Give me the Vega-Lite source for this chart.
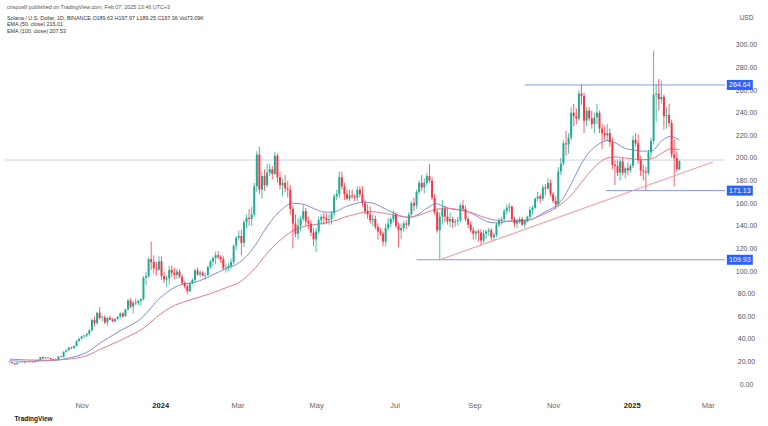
{
"$schema":"https://vega.github.io/schema/vega-lite/v6.json",
"width":730,"height":355,
"autosize":{"type":"none"},
"padding":{"left":0,"top":40,"right":38,"bottom":31},
"background":"#ffffff",
"config":{"view":{"stroke":null},"font":"Liberation Sans"},
"title":{"text":"crispus9 published on TradingView.com, Feb 07, 2025 13:46 UTC+3","subtitle":["Solana / U.S. Dollar, 1D, BINANCE  O189.63 H197.97 L189.25 C197.36 Vol73.09K","EMA (50, close) 216.01","EMA (100, close) 207.53"],"anchor":"start","frame":"group","orient":"top","offset":-20,"dx":7,"fontSize":5.4,"fontWeight":"normal","color":"#555555","font":"Liberation Sans","subtitleFont":"Liberation Sans","subtitleFontSize":5.4,"subtitleColor":"#333333","subtitlePadding":6,"subtitleLineHeight":6.1},
"datasets":{
"candles":[
{"d":"2023-09-06","o":19.6,"h":20.0,"l":19.0,"c":19.3},
{"d":"2023-09-08","o":19.3,"h":19.5,"l":18.3,"c":18.4},
{"d":"2023-09-10","o":18.4,"h":18.6,"l":17.3,"c":17.5},
{"d":"2023-09-12","o":17.5,"h":19.0,"l":17.4,"c":18.8},
{"d":"2023-09-14","o":18.8,"h":19.4,"l":18.6,"c":19.0},
{"d":"2023-09-16","o":19.0,"h":19.2,"l":18.7,"c":18.9},
{"d":"2023-09-18","o":18.9,"h":19.8,"l":18.8,"c":19.5},
{"d":"2023-09-20","o":19.5,"h":20.0,"l":19.3,"c":19.6},
{"d":"2023-09-22","o":19.6,"h":19.8,"l":19.2,"c":19.4},
{"d":"2023-09-24","o":19.4,"h":19.6,"l":19.0,"c":19.3},
{"d":"2023-09-26","o":19.3,"h":20.6,"l":19.2,"c":20.4},
{"d":"2023-09-28","o":20.4,"h":21.6,"l":20.2,"c":21.4},
{"d":"2023-09-30","o":21.4,"h":24.0,"l":21.3,"c":23.8},
{"d":"2023-10-02","o":23.8,"h":24.2,"l":22.4,"c":22.6},
{"d":"2023-10-04","o":22.6,"h":23.8,"l":22.3,"c":23.4},
{"d":"2023-10-06","o":23.4,"h":23.6,"l":22.7,"c":22.9},
{"d":"2023-10-08","o":22.9,"h":23.0,"l":21.8,"c":21.9},
{"d":"2023-10-10","o":21.9,"h":22.1,"l":21.0,"c":21.3},
{"d":"2023-10-12","o":21.3,"h":21.7,"l":20.9,"c":21.5},
{"d":"2023-10-14","o":21.5,"h":24.6,"l":21.4,"c":24.3},
{"d":"2023-10-16","o":24.3,"h":25.0,"l":23.4,"c":23.8},
{"d":"2023-10-18","o":23.8,"h":29.0,"l":23.5,"c":28.6},
{"d":"2023-10-20","o":28.6,"h":30.5,"l":27.8,"c":29.9},
{"d":"2023-10-22","o":29.9,"h":32.8,"l":29.5,"c":32.2},
{"d":"2023-10-24","o":32.2,"h":33.0,"l":30.5,"c":31.7},
{"d":"2023-10-26","o":31.7,"h":34.0,"l":31.2,"c":33.6},
{"d":"2023-10-28","o":33.6,"h":38.5,"l":33.3,"c":38.0},
{"d":"2023-10-30","o":38.0,"h":40.5,"l":37.5,"c":40.1},
{"d":"2023-11-01","o":40.1,"h":42.5,"l":39.8,"c":42.2},
{"d":"2023-11-03","o":42.2,"h":43.4,"l":41.0,"c":43.0},
{"d":"2023-11-05","o":43.0,"h":45.0,"l":41.5,"c":44.5},
{"d":"2023-11-07","o":44.5,"h":48.5,"l":43.0,"c":47.6},
{"d":"2023-11-09","o":47.6,"h":58.0,"l":46.5,"c":56.6},
{"d":"2023-11-11","o":56.6,"h":59.9,"l":51.0,"c":54.0},
{"d":"2023-11-13","o":54.0,"h":64.0,"l":52.5,"c":63.0},
{"d":"2023-11-15","o":63.0,"h":68.0,"l":57.0,"c":58.5},
{"d":"2023-11-17","o":58.5,"h":60.5,"l":55.5,"c":59.0},
{"d":"2023-11-19","o":59.0,"h":61.0,"l":53.0,"c":54.5},
{"d":"2023-11-21","o":54.5,"h":59.5,"l":51.5,"c":58.5},
{"d":"2023-11-23","o":58.5,"h":60.5,"l":56.5,"c":57.0},
{"d":"2023-11-25","o":57.0,"h":58.5,"l":54.5,"c":55.5},
{"d":"2023-11-27","o":55.5,"h":58.5,"l":54.5,"c":57.5},
{"d":"2023-11-29","o":57.5,"h":60.0,"l":56.5,"c":59.5},
{"d":"2023-12-01","o":59.5,"h":63.5,"l":58.5,"c":62.5},
{"d":"2023-12-03","o":62.5,"h":63.5,"l":58.5,"c":60.0},
{"d":"2023-12-05","o":60.0,"h":66.5,"l":59.5,"c":66.0},
{"d":"2023-12-07","o":66.0,"h":75.5,"l":65.5,"c":74.0},
{"d":"2023-12-09","o":74.0,"h":76.0,"l":67.0,"c":68.5},
{"d":"2023-12-11","o":68.5,"h":73.5,"l":62.5,"c":72.0},
{"d":"2023-12-13","o":72.0,"h":75.5,"l":70.0,"c":71.5},
{"d":"2023-12-15","o":71.5,"h":74.5,"l":69.5,"c":73.5},
{"d":"2023-12-17","o":73.5,"h":76.0,"l":69.5,"c":75.0},
{"d":"2023-12-19","o":75.0,"h":95.5,"l":74.0,"c":94.0},
{"d":"2023-12-21","o":94.0,"h":99.0,"l":87.5,"c":95.5},
{"d":"2023-12-23","o":95.5,"h":112.0,"l":94.0,"c":110.5},
{"d":"2023-12-25","o":110.5,"h":126.0,"l":101.0,"c":108.0},
{"d":"2023-12-27","o":108.0,"h":114.0,"l":98.0,"c":102.5},
{"d":"2023-12-29","o":102.5,"h":108.0,"l":96.0,"c":101.5},
{"d":"2023-12-31","o":101.5,"h":113.0,"l":100.0,"c":108.5},
{"d":"2024-01-02","o":108.5,"h":113.0,"l":92.0,"c":95.5},
{"d":"2024-01-04","o":95.5,"h":99.5,"l":89.5,"c":92.5},
{"d":"2024-01-06","o":92.5,"h":96.0,"l":85.5,"c":93.5},
{"d":"2024-01-08","o":93.5,"h":104.5,"l":88.0,"c":101.0},
{"d":"2024-01-10","o":101.0,"h":105.0,"l":95.0,"c":98.5},
{"d":"2024-01-12","o":98.5,"h":103.0,"l":93.0,"c":96.5},
{"d":"2024-01-14","o":96.5,"h":102.0,"l":93.0,"c":99.5},
{"d":"2024-01-16","o":99.5,"h":101.5,"l":93.5,"c":95.0},
{"d":"2024-01-18","o":95.0,"h":97.0,"l":87.5,"c":89.5},
{"d":"2024-01-20","o":89.5,"h":91.0,"l":84.5,"c":86.5},
{"d":"2024-01-22","o":86.5,"h":88.0,"l":79.5,"c":82.0},
{"d":"2024-01-24","o":82.0,"h":90.0,"l":81.5,"c":89.0},
{"d":"2024-01-26","o":89.0,"h":93.5,"l":88.0,"c":92.0},
{"d":"2024-01-28","o":92.0,"h":102.0,"l":90.0,"c":100.5},
{"d":"2024-01-30","o":100.5,"h":103.0,"l":95.5,"c":97.0},
{"d":"2024-02-01","o":97.0,"h":100.5,"l":94.5,"c":98.5},
{"d":"2024-02-03","o":98.5,"h":100.0,"l":95.0,"c":96.0},
{"d":"2024-02-05","o":96.0,"h":98.5,"l":92.5,"c":96.5},
{"d":"2024-02-07","o":96.5,"h":104.5,"l":95.5,"c":103.5},
{"d":"2024-02-09","o":103.5,"h":110.0,"l":102.0,"c":108.5},
{"d":"2024-02-11","o":108.5,"h":113.0,"l":104.5,"c":111.5},
{"d":"2024-02-13","o":111.5,"h":117.0,"l":106.0,"c":114.0},
{"d":"2024-02-15","o":114.0,"h":117.5,"l":110.5,"c":112.5},
{"d":"2024-02-17","o":112.5,"h":114.0,"l":107.0,"c":110.5},
{"d":"2024-02-19","o":110.5,"h":113.0,"l":101.0,"c":102.5},
{"d":"2024-02-21","o":102.5,"h":106.0,"l":98.5,"c":103.0},
{"d":"2024-02-23","o":103.0,"h":107.0,"l":100.0,"c":104.5},
{"d":"2024-02-25","o":104.5,"h":111.0,"l":102.0,"c":108.0},
{"d":"2024-02-27","o":108.0,"h":123.0,"l":106.0,"c":122.5},
{"d":"2024-02-29","o":122.5,"h":131.0,"l":118.5,"c":129.5},
{"d":"2024-03-02","o":129.5,"h":136.0,"l":127.0,"c":131.0},
{"d":"2024-03-04","o":131.0,"h":136.5,"l":114.0,"c":125.0},
{"d":"2024-03-06","o":125.0,"h":145.0,"l":121.0,"c":143.0},
{"d":"2024-03-08","o":143.0,"h":150.0,"l":138.0,"c":147.0},
{"d":"2024-03-10","o":147.0,"h":155.0,"l":140.0,"c":146.0},
{"d":"2024-03-12","o":146.0,"h":157.0,"l":140.0,"c":150.0},
{"d":"2024-03-14","o":150.0,"h":178.0,"l":148.0,"c":175.0},
{"d":"2024-03-16","o":175.0,"h":206.0,"l":170.0,"c":203.0},
{"d":"2024-03-18","o":203.0,"h":210.0,"l":168.0,"c":172.0},
{"d":"2024-03-20","o":172.0,"h":188.0,"l":164.0,"c":184.0},
{"d":"2024-03-22","o":184.0,"h":190.0,"l":171.0,"c":176.0},
{"d":"2024-03-24","o":176.0,"h":195.0,"l":174.0,"c":187.0},
{"d":"2024-03-26","o":187.0,"h":195.0,"l":184.0,"c":190.0},
{"d":"2024-03-28","o":190.0,"h":193.0,"l":181.0,"c":186.0},
{"d":"2024-03-30","o":186.0,"h":205.0,"l":185.0,"c":202.0},
{"d":"2024-04-01","o":202.0,"h":204.0,"l":178.0,"c":183.0},
{"d":"2024-04-03","o":183.0,"h":188.0,"l":172.0,"c":176.0},
{"d":"2024-04-05","o":176.0,"h":182.0,"l":166.0,"c":178.0},
{"d":"2024-04-07","o":178.0,"h":185.0,"l":170.0,"c":173.0},
{"d":"2024-04-09","o":173.0,"h":180.0,"l":165.0,"c":172.0},
{"d":"2024-04-11","o":172.0,"h":176.0,"l":150.0,"c":155.0},
{"d":"2024-04-13","o":155.0,"h":158.0,"l":120.0,"c":142.0},
{"d":"2024-04-15","o":142.0,"h":150.0,"l":130.0,"c":133.0},
{"d":"2024-04-17","o":133.0,"h":147.0,"l":128.0,"c":140.0},
{"d":"2024-04-19","o":140.0,"h":149.0,"l":135.0,"c":146.0},
{"d":"2024-04-21","o":146.0,"h":158.0,"l":144.0,"c":153.0},
{"d":"2024-04-23","o":153.0,"h":156.0,"l":140.0,"c":144.0},
{"d":"2024-04-25","o":144.0,"h":148.0,"l":137.0,"c":142.0},
{"d":"2024-04-27","o":142.0,"h":145.0,"l":131.0,"c":134.0},
{"d":"2024-04-29","o":134.0,"h":138.0,"l":122.0,"c":128.0},
{"d":"2024-05-01","o":128.0,"h":138.0,"l":117.0,"c":135.0},
{"d":"2024-05-03","o":135.0,"h":148.0,"l":133.0,"c":145.0},
{"d":"2024-05-05","o":145.0,"h":150.0,"l":141.0,"c":148.0},
{"d":"2024-05-07","o":148.0,"h":152.0,"l":141.0,"c":147.0},
{"d":"2024-05-09","o":147.0,"h":151.0,"l":142.0,"c":145.0},
{"d":"2024-05-11","o":145.0,"h":150.0,"l":141.0,"c":146.0},
{"d":"2024-05-13","o":146.0,"h":153.0,"l":141.0,"c":151.0},
{"d":"2024-05-15","o":151.0,"h":168.0,"l":148.0,"c":166.0},
{"d":"2024-05-17","o":166.0,"h":172.0,"l":163.0,"c":168.0},
{"d":"2024-05-19","o":168.0,"h":188.0,"l":165.0,"c":183.0},
{"d":"2024-05-21","o":183.0,"h":188.0,"l":172.0,"c":175.0},
{"d":"2024-05-23","o":175.0,"h":178.0,"l":163.0,"c":168.0},
{"d":"2024-05-25","o":168.0,"h":172.0,"l":163.0,"c":164.0},
{"d":"2024-05-27","o":164.0,"h":172.0,"l":162.0,"c":167.0},
{"d":"2024-05-29","o":167.0,"h":172.0,"l":164.0,"c":166.0},
{"d":"2024-05-31","o":166.0,"h":168.0,"l":162.0,"c":165.0},
{"d":"2024-06-02","o":165.0,"h":175.0,"l":162.0,"c":172.0},
{"d":"2024-06-04","o":172.0,"h":175.0,"l":165.0,"c":168.0},
{"d":"2024-06-06","o":168.0,"h":175.0,"l":157.0,"c":160.0},
{"d":"2024-06-08","o":160.0,"h":163.0,"l":150.0,"c":153.0},
{"d":"2024-06-10","o":153.0,"h":159.0,"l":146.0,"c":150.0},
{"d":"2024-06-12","o":150.0,"h":157.0,"l":142.0,"c":145.0},
{"d":"2024-06-14","o":145.0,"h":150.0,"l":140.0,"c":146.0},
{"d":"2024-06-16","o":146.0,"h":149.0,"l":137.0,"c":139.0},
{"d":"2024-06-18","o":139.0,"h":142.0,"l":128.0,"c":135.0},
{"d":"2024-06-20","o":135.0,"h":138.0,"l":131.0,"c":133.0},
{"d":"2024-06-22","o":133.0,"h":135.0,"l":122.0,"c":126.0},
{"d":"2024-06-24","o":126.0,"h":142.0,"l":122.0,"c":138.0},
{"d":"2024-06-26","o":138.0,"h":147.0,"l":136.0,"c":142.0},
{"d":"2024-06-28","o":142.0,"h":148.0,"l":139.0,"c":146.0},
{"d":"2024-06-30","o":146.0,"h":154.0,"l":143.0,"c":150.0},
{"d":"2024-07-02","o":150.0,"h":152.0,"l":138.0,"c":140.0},
{"d":"2024-07-04","o":140.0,"h":143.0,"l":121.0,"c":136.0},
{"d":"2024-07-06","o":136.0,"h":142.0,"l":128.0,"c":138.0},
{"d":"2024-07-08","o":138.0,"h":144.0,"l":135.0,"c":142.0},
{"d":"2024-07-10","o":142.0,"h":145.0,"l":137.0,"c":141.0},
{"d":"2024-07-12","o":141.0,"h":152.0,"l":139.0,"c":150.0},
{"d":"2024-07-14","o":150.0,"h":162.0,"l":149.0,"c":160.0},
{"d":"2024-07-16","o":160.0,"h":165.0,"l":153.0,"c":158.0},
{"d":"2024-07-18","o":158.0,"h":172.0,"l":155.0,"c":170.0},
{"d":"2024-07-20","o":170.0,"h":180.0,"l":168.0,"c":178.0},
{"d":"2024-07-22","o":178.0,"h":185.0,"l":171.0,"c":174.0},
{"d":"2024-07-24","o":174.0,"h":182.0,"l":169.0,"c":178.0},
{"d":"2024-07-26","o":178.0,"h":187.0,"l":176.0,"c":184.0},
{"d":"2024-07-28","o":184.0,"h":195.0,"l":178.0,"c":180.0},
{"d":"2024-07-30","o":180.0,"h":183.0,"l":163.0,"c":165.0},
{"d":"2024-08-01","o":165.0,"h":168.0,"l":150.0,"c":152.0},
{"d":"2024-08-03","o":152.0,"h":155.0,"l":134.0,"c":136.0},
{"d":"2024-08-05","o":136.0,"h":152.0,"l":110.0,"c":148.0},
{"d":"2024-08-07","o":148.0,"h":163.0,"l":141.0,"c":155.0},
{"d":"2024-08-09","o":155.0,"h":158.0,"l":143.0,"c":148.0},
{"d":"2024-08-11","o":148.0,"h":155.0,"l":141.0,"c":144.0},
{"d":"2024-08-13","o":144.0,"h":152.0,"l":139.0,"c":146.0},
{"d":"2024-08-15","o":146.0,"h":148.0,"l":138.0,"c":143.0},
{"d":"2024-08-17","o":143.0,"h":146.0,"l":139.0,"c":144.0},
{"d":"2024-08-19","o":144.0,"h":148.0,"l":140.0,"c":145.0},
{"d":"2024-08-21","o":145.0,"h":160.0,"l":143.0,"c":158.0},
{"d":"2024-08-23","o":158.0,"h":163.0,"l":153.0,"c":155.0},
{"d":"2024-08-25","o":155.0,"h":158.0,"l":144.0,"c":146.0},
{"d":"2024-08-27","o":146.0,"h":148.0,"l":138.0,"c":141.0},
{"d":"2024-08-29","o":141.0,"h":144.0,"l":134.0,"c":136.0},
{"d":"2024-08-31","o":136.0,"h":139.0,"l":128.0,"c":133.0},
{"d":"2024-09-02","o":133.0,"h":136.0,"l":128.0,"c":135.0},
{"d":"2024-09-04","o":135.0,"h":137.0,"l":126.0,"c":134.0},
{"d":"2024-09-06","o":134.0,"h":137.0,"l":122.0,"c":127.0},
{"d":"2024-09-08","o":127.0,"h":136.0,"l":125.0,"c":133.0},
{"d":"2024-09-10","o":133.0,"h":136.0,"l":128.0,"c":135.0},
{"d":"2024-09-12","o":135.0,"h":138.0,"l":131.0,"c":136.0},
{"d":"2024-09-14","o":136.0,"h":138.0,"l":127.0,"c":130.0},
{"d":"2024-09-16","o":130.0,"h":134.0,"l":126.0,"c":132.0},
{"d":"2024-09-18","o":132.0,"h":143.0,"l":130.0,"c":141.0},
{"d":"2024-09-20","o":141.0,"h":147.0,"l":139.0,"c":145.0},
{"d":"2024-09-22","o":145.0,"h":148.0,"l":141.0,"c":146.0},
{"d":"2024-09-24","o":146.0,"h":155.0,"l":144.0,"c":153.0},
{"d":"2024-09-26","o":153.0,"h":159.0,"l":150.0,"c":156.0},
{"d":"2024-09-28","o":156.0,"h":160.0,"l":152.0,"c":157.0},
{"d":"2024-09-30","o":157.0,"h":158.0,"l":144.0,"c":146.0},
{"d":"2024-10-02","o":146.0,"h":148.0,"l":139.0,"c":142.0},
{"d":"2024-10-04","o":142.0,"h":146.0,"l":138.0,"c":144.0},
{"d":"2024-10-06","o":144.0,"h":148.0,"l":142.0,"c":146.0},
{"d":"2024-10-08","o":146.0,"h":148.0,"l":140.0,"c":141.0},
{"d":"2024-10-10","o":141.0,"h":146.0,"l":138.0,"c":144.0},
{"d":"2024-10-12","o":144.0,"h":149.0,"l":143.0,"c":148.0},
{"d":"2024-10-14","o":148.0,"h":157.0,"l":146.0,"c":154.0},
{"d":"2024-10-16","o":154.0,"h":158.0,"l":150.0,"c":156.0},
{"d":"2024-10-18","o":156.0,"h":165.0,"l":155.0,"c":164.0},
{"d":"2024-10-20","o":164.0,"h":170.0,"l":162.0,"c":166.0},
{"d":"2024-10-22","o":166.0,"h":168.0,"l":160.0,"c":164.0},
{"d":"2024-10-24","o":164.0,"h":176.0,"l":162.0,"c":174.0},
{"d":"2024-10-26","o":174.0,"h":177.0,"l":167.0,"c":173.0},
{"d":"2024-10-28","o":173.0,"h":182.0,"l":172.0,"c":178.0},
{"d":"2024-10-30","o":178.0,"h":181.0,"l":166.0,"c":168.0},
{"d":"2024-11-01","o":168.0,"h":170.0,"l":160.0,"c":162.0},
{"d":"2024-11-03","o":162.0,"h":166.0,"l":155.0,"c":159.0},
{"d":"2024-11-05","o":159.0,"h":192.0,"l":157.0,"c":188.0},
{"d":"2024-11-07","o":188.0,"h":200.0,"l":185.0,"c":195.0},
{"d":"2024-11-09","o":195.0,"h":216.0,"l":193.0,"c":213.0},
{"d":"2024-11-11","o":213.0,"h":224.0,"l":202.0,"c":212.0},
{"d":"2024-11-13","o":212.0,"h":222.0,"l":204.0,"c":218.0},
{"d":"2024-11-15","o":218.0,"h":245.0,"l":216.0,"c":240.0},
{"d":"2024-11-17","o":240.0,"h":248.0,"l":228.0,"c":237.0},
{"d":"2024-11-19","o":237.0,"h":244.0,"l":230.0,"c":235.0},
{"d":"2024-11-21","o":235.0,"h":260.0,"l":233.0,"c":257.0},
{"d":"2024-11-23","o":257.0,"h":264.6,"l":247.0,"c":255.0},
{"d":"2024-11-25","o":255.0,"h":258.0,"l":222.0,"c":233.0},
{"d":"2024-11-27","o":233.0,"h":245.0,"l":228.0,"c":242.0},
{"d":"2024-11-29","o":242.0,"h":245.0,"l":233.0,"c":235.0},
{"d":"2024-12-01","o":235.0,"h":242.0,"l":226.0,"c":230.0},
{"d":"2024-12-03","o":230.0,"h":240.0,"l":222.0,"c":236.0},
{"d":"2024-12-05","o":236.0,"h":248.0,"l":230.0,"c":240.0},
{"d":"2024-12-07","o":240.0,"h":242.0,"l":222.0,"c":226.0},
{"d":"2024-12-09","o":226.0,"h":230.0,"l":208.0,"c":222.0},
{"d":"2024-12-11","o":222.0,"h":228.0,"l":216.0,"c":220.0},
{"d":"2024-12-13","o":220.0,"h":230.0,"l":215.0,"c":222.0},
{"d":"2024-12-15","o":222.0,"h":226.0,"l":210.0,"c":214.0},
{"d":"2024-12-17","o":214.0,"h":218.0,"l":190.0,"c":194.0},
{"d":"2024-12-19","o":194.0,"h":198.0,"l":176.0,"c":193.0},
{"d":"2024-12-21","o":193.0,"h":198.0,"l":184.0,"c":187.0},
{"d":"2024-12-23","o":187.0,"h":199.0,"l":180.0,"c":197.0},
{"d":"2024-12-25","o":197.0,"h":200.0,"l":185.0,"c":187.0},
{"d":"2024-12-27","o":187.0,"h":192.0,"l":182.0,"c":191.0},
{"d":"2024-12-29","o":191.0,"h":196.0,"l":185.0,"c":189.0},
{"d":"2024-12-31","o":189.0,"h":195.0,"l":187.0,"c":193.0},
{"d":"2025-01-02","o":193.0,"h":220.0,"l":191.0,"c":216.0},
{"d":"2025-01-04","o":216.0,"h":222.0,"l":210.0,"c":213.0},
{"d":"2025-01-06","o":213.0,"h":221.0,"l":195.0,"c":198.0},
{"d":"2025-01-08","o":198.0,"h":202.0,"l":184.0,"c":189.0},
{"d":"2025-01-10","o":189.0,"h":194.0,"l":180.0,"c":188.0},
{"d":"2025-01-12","o":188.0,"h":192.0,"l":171.0,"c":187.0},
{"d":"2025-01-14","o":187.0,"h":207.0,"l":185.0,"c":205.0},
{"d":"2025-01-16","o":205.0,"h":218.0,"l":200.0,"c":215.0},
{"d":"2025-01-18","o":215.0,"h":295.0,"l":212.0,"c":256.0},
{"d":"2025-01-20","o":256.0,"h":265.0,"l":232.0,"c":257.0},
{"d":"2025-01-22","o":257.0,"h":270.0,"l":242.0,"c":252.0},
{"d":"2025-01-24","o":252.0,"h":268.0,"l":248.0,"c":254.0},
{"d":"2025-01-26","o":254.0,"h":256.0,"l":225.0,"c":237.0},
{"d":"2025-01-28","o":237.0,"h":245.0,"l":226.0,"c":238.0},
{"d":"2025-01-30","o":238.0,"h":248.0,"l":228.0,"c":231.0},
{"d":"2025-02-01","o":231.0,"h":234.0,"l":200.0,"c":203.0},
{"d":"2025-02-03","o":203.0,"h":217.0,"l":175.0,"c":200.0},
{"d":"2025-02-05","o":200.0,"h":206.0,"l":188.0,"c":190.0},
{"d":"2025-02-07","o":189.63,"h":197.97,"l":189.25,"c":197.36}
],
"ema":[
{"d":"2023-09-06","ema50":20.6,"ema100":22.0},
{"d":"2023-09-20","ema50":20.0,"ema100":21.3},
{"d":"2023-10-04","ema50":20.7,"ema100":21.0},
{"d":"2023-10-14","ema50":21.3,"ema100":21.3},
{"d":"2023-10-24","ema50":23.5,"ema100":22.3},
{"d":"2023-11-01","ema50":26.0,"ema100":23.8},
{"d":"2023-11-08","ema50":30.0,"ema100":26.5},
{"d":"2023-11-15","ema50":36.0,"ema100":30.5},
{"d":"2023-11-22","ema50":41.0,"ema100":34.0},
{"d":"2023-11-30","ema50":46.5,"ema100":38.0},
{"d":"2023-12-08","ema50":51.5,"ema100":42.5},
{"d":"2023-12-15","ema50":56.0,"ema100":46.5},
{"d":"2023-12-22","ema50":63.5,"ema100":52.0},
{"d":"2023-12-29","ema50":73.0,"ema100":59.0},
{"d":"2024-01-05","ema50":80.0,"ema100":65.0},
{"d":"2024-01-12","ema50":85.5,"ema100":69.5},
{"d":"2024-01-19","ema50":88.5,"ema100":72.5},
{"d":"2024-01-26","ema50":89.5,"ema100":75.0},
{"d":"2024-02-02","ema50":92.0,"ema100":77.5},
{"d":"2024-02-09","ema50":95.5,"ema100":80.0},
{"d":"2024-02-16","ema50":99.5,"ema100":83.0},
{"d":"2024-02-23","ema50":103.0,"ema100":86.0},
{"d":"2024-03-01","ema50":106.5,"ema100":89.0},
{"d":"2024-03-08","ema50":113.0,"ema100":95.0},
{"d":"2024-03-15","ema50":123.0,"ema100":103.0},
{"d":"2024-03-22","ema50":136.0,"ema100":113.0},
{"d":"2024-03-29","ema50":147.0,"ema100":122.0},
{"d":"2024-04-05","ema50":155.0,"ema100":129.0},
{"d":"2024-04-12","ema50":160.0,"ema100":135.0},
{"d":"2024-04-19","ema50":159.5,"ema100":138.5},
{"d":"2024-04-26","ema50":157.0,"ema100":140.5},
{"d":"2024-05-03","ema50":153.5,"ema100":141.5},
{"d":"2024-05-10","ema50":152.0,"ema100":143.0},
{"d":"2024-05-17","ema50":153.0,"ema100":145.0},
{"d":"2024-05-24","ema50":157.0,"ema100":148.0},
{"d":"2024-05-31","ema50":159.5,"ema100":150.0},
{"d":"2024-06-07","ema50":161.0,"ema100":152.0},
{"d":"2024-06-14","ema50":160.0,"ema100":152.5},
{"d":"2024-06-21","ema50":156.5,"ema100":151.5},
{"d":"2024-06-28","ema50":152.5,"ema100":150.0},
{"d":"2024-07-05","ema50":149.0,"ema100":148.5},
{"d":"2024-07-12","ema50":147.5,"ema100":147.5},
{"d":"2024-07-19","ema50":150.0,"ema100":149.0},
{"d":"2024-07-26","ema50":155.5,"ema100":152.0},
{"d":"2024-08-02","ema50":159.5,"ema100":154.5},
{"d":"2024-08-09","ema50":156.5,"ema100":155.5},
{"d":"2024-08-16","ema50":154.5,"ema100":155.0},
{"d":"2024-08-23","ema50":153.5,"ema100":153.5},
{"d":"2024-08-30","ema50":151.0,"ema100":151.5},
{"d":"2024-09-06","ema50":146.5,"ema100":148.5},
{"d":"2024-09-13","ema50":143.0,"ema100":146.0},
{"d":"2024-09-20","ema50":142.5,"ema100":144.5},
{"d":"2024-09-27","ema50":144.0,"ema100":144.0},
{"d":"2024-10-04","ema50":144.5,"ema100":144.0},
{"d":"2024-10-11","ema50":144.5,"ema100":144.5},
{"d":"2024-10-18","ema50":147.0,"ema100":147.0},
{"d":"2024-10-25","ema50":152.0,"ema100":150.5},
{"d":"2024-11-01","ema50":156.0,"ema100":154.5},
{"d":"2024-11-08","ema50":163.0,"ema100":160.0},
{"d":"2024-11-15","ema50":177.0,"ema100":167.0},
{"d":"2024-11-22","ema50":193.0,"ema100":177.0},
{"d":"2024-11-29","ema50":205.0,"ema100":187.0},
{"d":"2024-12-06","ema50":212.0,"ema100":195.0},
{"d":"2024-12-13","ema50":215.5,"ema100":200.0},
{"d":"2024-12-20","ema50":213.0,"ema100":201.0},
{"d":"2024-12-27","ema50":208.5,"ema100":200.0},
{"d":"2025-01-03","ema50":207.0,"ema100":199.0},
{"d":"2025-01-10","ema50":206.0,"ema100":198.5},
{"d":"2025-01-17","ema50":206.5,"ema100":199.5},
{"d":"2025-01-24","ema50":215.0,"ema100":204.0},
{"d":"2025-01-31","ema50":219.0,"ema100":208.0},
{"d":"2025-02-07","ema50":216.01,"ema100":207.53}
],
"lines":[
{"kind":"ref","v":198.2,"from":"2023-09-02T12:30:00Z","to":"2025-03-14T10:00:00Z","lbl":""},
{"kind":"level","v":264.64,"from":"2024-10-10","to":"2025-03-14T10:00:00Z","lbl":"264.64"},
{"kind":"level","v":171.13,"from":"2024-12-12","to":"2025-03-14T10:00:00Z","lbl":"171.13"},
{"kind":"level","v":109.93,"from":"2024-07-18","to":"2025-03-14T10:00:00Z","lbl":"109.93"}
],
"trend":[
{"d":"2024-08-05","p":109.93},
{"d":"2025-03-05","p":196.5}
]
},
"layer":[
{"data":{"name":"lines"},
 "mark":{"type":"rule","strokeWidth":1},
 "encoding":{
  "x":{"field":"from","type":"temporal",
   "scale":{"type":"utc","domain":[{"year":2023,"month":9,"date":2,"hours":12,"minutes":30,"utc":true},{"year":2025,"month":3,"date":14,"hours":10,"utc":true}]},
   "axis":{"title":"TradingView","titleX":14,"titleY":23,"titleAlign":"left","titleAnchor":"start","titleBaseline":"middle","titleFontSize":6.5,"titleFontWeight":600,"titleColor":"#131722","titleFont":"Liberation Sans",
    "values":[{"year":2023,"month":11,"date":1,"utc":true},{"year":2024,"month":1,"date":1,"utc":true},{"year":2024,"month":3,"date":1,"utc":true},{"year":2024,"month":5,"date":1,"utc":true},{"year":2024,"month":7,"date":1,"utc":true},{"year":2024,"month":9,"date":1,"utc":true},{"year":2024,"month":11,"date":1,"utc":true},{"year":2025,"month":1,"date":1,"utc":true},{"year":2025,"month":3,"date":1,"utc":true}],
    "labelExpr":"utcmonth(datum.value) === 0 ? utcFormat(datum.value, '%Y') : utcFormat(datum.value, '%b')",
    "labelFontWeight":{"condition":{"test":"utcmonth(datum.value) === 0","value":"bold"},"value":"normal"},
    "labelColor":{"condition":{"test":"utcmonth(datum.value) === 0","value":"#222222"},"value":"#666666"},
    "labelFontSize":7.5,"labelFont":"Liberation Sans","labelPadding":6,"labelOverlap":false,"labelBound":false,"labelFlush":false,
    "domain":false,"ticks":false,"grid":false}},
  "x2":{"field":"to"},
  "y":{"field":"v","type":"quantitative",
   "scale":{"domain":[-9.73,304.42],"nice":false,"zero":false},
   "axis":{"orient":"right","title":"USD","titleAngle":0,"titleX":16,"titleY":-23,"titleAlign":"center","titleBaseline":"middle","titleFontSize":6.5,"titleFontWeight":"normal","titleColor":"#50535e","titleFont":"Liberation Sans",
    "values":[0,20,40,60,80,100,120,140,160,180,200,220,240,260,280,300],"tickCount":16,"format":".2f",
    "labelAlign":"center","labelPadding":16,"labelFontSize":7,"labelColor":"#50535e","labelFont":"Liberation Sans","labelOverlap":false,"labelBound":false,"labelFlush":false,
    "domain":false,"ticks":false,"grid":false}},
  "color":{"field":"kind","type":"nominal","scale":{"domain":["level","ref"],"range":["#8799dc","#cfd2ec"]},"legend":null}
 }},
{"data":{"name":"ema"},
 "mark":{"type":"line","strokeWidth":1,"interpolate":"monotone","color":"#7a8fe2"},
 "encoding":{"x":{"field":"d","type":"temporal"},"y":{"field":"ema50","type":"quantitative"}}},
{"data":{"name":"ema"},
 "mark":{"type":"line","strokeWidth":1,"interpolate":"monotone","color":"#e57a92"},
 "encoding":{"x":{"field":"d","type":"temporal"},"y":{"field":"ema100","type":"quantitative"}}},
{"data":{"name":"candles"},
 "mark":{"type":"rule","strokeWidth":0.8},
 "encoding":{"x":{"field":"d","type":"temporal"},"y":{"field":"l","type":"quantitative"},"y2":{"field":"h"},
  "color":{"condition":{"test":"datum.c >= datum.o","value":"#22ab94"},"value":"#f23645"}}},
{"data":{"name":"candles"},
 "mark":{"type":"bar","size":2},
 "encoding":{"x":{"field":"d","type":"temporal"},"y":{"field":"o","type":"quantitative"},"y2":{"field":"c"},
  "color":{"condition":{"test":"datum.c >= datum.o","value":"#22ab94"},"value":"#f23645"}}},
{"data":{"name":"trend"},
 "mark":{"type":"line","strokeWidth":1.1,"color":"#f0a3a3"},
 "encoding":{"x":{"field":"d","type":"temporal"},"y":{"field":"p","type":"quantitative"}}},
{"data":{"name":"lines"},
 "transform":[{"filter":"datum.kind === 'level'"}],
 "mark":{"type":"tick","orient":"horizontal","size":26,"thickness":10,"color":"#2962ff","opacity":1},
 "encoding":{"x":{"datum":{"year":2025,"month":3,"date":25,"hours":22,"utc":true},"type":"temporal"},"y":{"field":"v","type":"quantitative"}}},
{"data":{"name":"lines"},
 "transform":[{"filter":"datum.kind === 'level'"}],
 "mark":{"type":"text","color":"#ffffff","fontSize":7,"align":"center","baseline":"middle","font":"Liberation Sans"},
 "encoding":{"x":{"datum":{"year":2025,"month":3,"date":25,"hours":22,"utc":true},"type":"temporal"},"y":{"field":"v","type":"quantitative"},"text":{"field":"lbl"}}}
]
}
